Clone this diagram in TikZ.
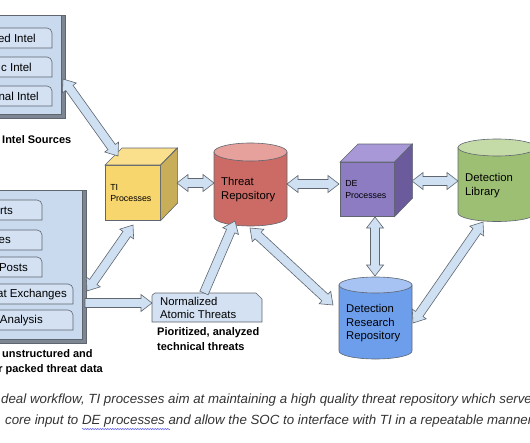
\documentclass[tikz,border=0pt]{standalone}
\usepackage{fontspec}
\setmainfont{Liberation Sans}
\usetikzlibrary{calc, decorations.pathmorphing}

\definecolor{panelblue}{HTML}{C9D9EE}
\definecolor{itemblue}{HTML}{D3E1F3}
\definecolor{arrowblue}{HTML}{CFE0F3}
\definecolor{edgegray}{HTML}{5F6670}
\definecolor{bevelgray}{HTML}{7D8794}
\definecolor{tifront}{HTML}{F8D66E}
\definecolor{tiside}{HTML}{C8AE58}
\definecolor{titop}{HTML}{FADF8C}
\definecolor{defront}{HTML}{8E7CC3}
\definecolor{deside}{HTML}{6B5B9C}
\definecolor{detop}{HTML}{A898D8}
\definecolor{repored}{HTML}{CC6B65}
\definecolor{repotop}{HTML}{E6A19C}
\definecolor{libgreen}{HTML}{9DBF74}
\definecolor{libtop}{HTML}{C4DBA7}
\definecolor{resblue}{HTML}{6D9EEB}
\definecolor{restop}{HTML}{A6C3F4}

% wide block arrows between two coordinates
\newcommand{\dubarrow}[2]{%
  \coordinate (ha) at ($(#1)!11pt!(#2)$);
  \coordinate (hb) at ($(#2)!11pt!(#1)$);
  \draw[bigarrow] (#1) -- ($(ha)!8.5pt!90:(#2)$) -- ($(ha)!4.5pt!90:(#2)$)
    -- ($(hb)!4.5pt!-90:(#1)$) -- ($(hb)!8.5pt!-90:(#1)$) -- (#2)
    -- ($(hb)!8.5pt!90:(#1)$) -- ($(hb)!4.5pt!90:(#1)$)
    -- ($(ha)!4.5pt!-90:(#2)$) -- ($(ha)!8.5pt!-90:(#2)$) -- cycle;}
\newcommand{\sinarrow}[2]{%
  \coordinate (hb) at ($(#2)!11pt!(#1)$);
  \draw[bigarrow] ($(#1)!4.5pt!90:(#2)$) -- ($(hb)!4.5pt!-90:(#1)$)
    -- ($(hb)!8.5pt!-90:(#1)$) -- (#2) -- ($(hb)!8.5pt!90:(#1)$)
    -- ($(hb)!4.5pt!90:(#1)$) -- ($(#1)!4.5pt!-90:(#2)$) -- cycle;}
% cylinder: centre x, top y, bottom y, x radius, y radius, body, lid
\newcommand{\repo}[7]{%
  \filldraw[#6, draw=edgegray, line width=0.6pt]
    ({#1-#4},#2) -- ({#1-#4},#3)
    arc[start angle=180, end angle=360, x radius=#4pt, y radius=#5pt]
    -- ({#1+#4},#2) -- cycle;
  \filldraw[#7, draw=edgegray, line width=0.6pt] (#1,#2) ellipse[x radius=#4pt, y radius=#5pt];}

\begin{document}
\begin{tikzpicture}[x=1pt, y=-1pt,
    bigarrow/.style={fill=arrowblue, draw=edgegray, line width=0.6pt, line join=miter},
    item/.style={fill=itemblue, draw=edgegray, line width=0.6pt},
    label/.style={font=\fontsize{11.5}{13.5}\selectfont, inner sep=0pt},
    heading/.style={font=\fontsize{11}{15}\selectfont\bfseries, inner sep=0pt, align=left},
    cubefront/.style={draw=edgegray, line width=0.6pt, minimum width=#1, minimum height=#1,
      text width={#1-10pt}, inner xsep=5pt, inner ysep=0pt, align=left, anchor=north west,
      font=\fontsize{8.8}{11.5}\selectfont},
    repotext/.style={font=\fontsize{11.3}{13.5}\selectfont, inner sep=0pt, align=left, anchor=west},
    caption/.style={font=\fontsize{13.3}{20}\selectfont\itshape, inner sep=0pt, anchor=west, text=black!80}]
  \useasboundingbox (0,0) rectangle (530,442);

  % intel sources
  \filldraw[bevelgray, draw=edgegray, line width=0.6pt] (-5,15) rectangle (65,118);
  \filldraw[panelblue, draw=edgegray, line width=0.6pt] (-5,15) rectangle (61,114);
  \foreach \y/\e/\txt in {28/36/ed Intel, 57/32/c Intel, 86/39/nal Intel} {
    \draw[item] (-5,\y) [rounded corners=5pt] -- (52,\y) [sharp corners] -- (52,\y+20) -- (-5,\y+20);
    \node[label, anchor=east] at (\e,\y+10.5) {\txt};
  }
  \node[heading, anchor=west] (intel) at (2,140) {Intel Sources};

  % unstructured sources
  \filldraw[bevelgray, draw=edgegray, line width=0.6pt] (-5,190) rectangle (86,343);
  \filldraw[panelblue, draw=edgegray, line width=0.6pt] (-5,190) rectangle (82,339);
  \foreach \y/\w/\e/\txt in {200/42/13/rts, 230/42/11/es, 257/42/28/Posts, 284/73/67/at Exchanges, 310/73/43/Analysis} {
    \draw[item] (-5,\y) [rounded corners=5pt] -- (\w,\y) [sharp corners] -- (\w,\y+20) -- (-5,\y+20);
    \node[label, anchor=east] at (\e,\y+10.5) {\txt};
  }
  \node[heading, anchor=north west] (raw) at (2,349) {unstructured and};
  \node[heading, anchor=north east] (packed) at (103,364) {r packed threat data};

  % TI processes cube
  \node[cubefront=55pt, fill=tifront] (ti) at (105,165) {TI\\Processes};
  \filldraw[titop, draw=edgegray, line width=0.6pt] (ti.north west) -- ++(17pt,17pt) -- ++(55pt,0pt) -- (ti.north east) -- cycle;
  \filldraw[tiside, draw=edgegray, line width=0.6pt] (ti.north east) -- ++(17pt,17pt) -- ++(0pt,-55pt) -- (ti.south east) -- cycle;

  % DE processes cube
  \node[cubefront=54pt, fill=defront] (de) at (340,162) {DE\\Processes};
  \filldraw[detop, draw=edgegray, line width=0.6pt] (de.north west) -- ++(18pt,18pt) -- ++(54pt,0pt) -- (de.north east) -- cycle;
  \filldraw[deside, draw=edgegray, line width=0.6pt] (de.north east) -- ++(18pt,18pt) -- ++(0pt,-54pt) -- (de.south east) -- cycle;

  % repositories
  \repo{250.5}{152}{217}{36.5}{9}{repored}{repotop}
  \node[repotext] (threat) at (221,189.5) {Threat\\Repository};
  \repo{497}{147.5}{213}{39}{8.5}{libgreen}{libtop}
  \node[repotext] (library) at (465,185.5) {Detection\\Library};
  \repo{375.5}{285}{351}{36.5}{8}{resblue}{restop}
  \node[repotext] (research) at (346,323.5) {Detection\\Research\\Repository};

  % normalized atomic threats
  \filldraw[item] (152,322) -- (152,296) [rounded corners=2pt] -- (153,293) [sharp corners] -- (256,293) -- (262,299) -- (262,322) -- cycle;
  \node[repotext] (norm) at (160,308) {Normalized\\Atomic Threats};
  \node[heading, anchor=north west] (prio) at (157,327) {Pioritized, analyzed\\technical threats};

  % arrow ends
  \coordinate (intel-e) at (63,79);   \coordinate (ti-nw) at (118,156);
  \coordinate (ti-e) at (177,183);    \coordinate (threat-w) at (214,183);
  \coordinate (threat-e) at (287,184); \coordinate (de-w) at (339,184);
  \coordinate (de-e) at (412,181);    \coordinate (library-w) at (458,181);
  \coordinate (de-s) at (375,217);    \coordinate (research-n) at (375,276);
  \coordinate (research-e) at (413,323); \coordinate (library-s) at (483,222);
  \coordinate (raw-e) at (87,291);    \coordinate (ti-s) at (133,225);
  \coordinate (raw-m) at (85,303);    \coordinate (norm-w) at (152,303);
  \coordinate (norm-n) at (204,293);  \coordinate (threat-s) at (235,221);
  \coordinate (threat-se) at (250,228); \coordinate (research-w) at (333,305);

  \dubarrow{intel-e}{ti-nw}
  \dubarrow{ti-e}{threat-w}
  \dubarrow{threat-e}{de-w}
  \dubarrow{de-e}{library-w}
  \dubarrow{de-s}{research-n}
  \dubarrow{research-e}{library-s}
  \dubarrow{raw-e}{ti-s}
  \sinarrow{raw-m}{norm-w}
  \sinarrow{norm-n}{threat-s}
  \dubarrow{threat-se}{research-w}

  % caption
  \node[caption] (cap1) at (1,400)
    {deal workflow, TI processes aim at maintaining a high quality threat repository which serves as};
  \node[caption] (cap2) at (5,421)
    {core input to DE processes and allow the SOC to interface with TI in a repeatable manner.};
  \draw[blue!70, line width=0.5pt, decorate, decoration={snake, amplitude=0.6pt, segment length=2.5pt}]
    (82,429) -- (170,429);
\end{tikzpicture}
\end{document}
